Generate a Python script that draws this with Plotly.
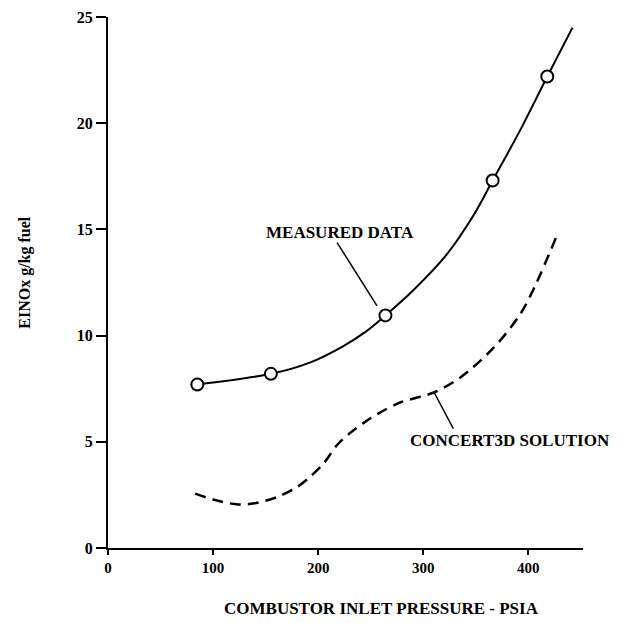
import plotly.graph_objects as go

# Measured data points (circles)
measured_x = [85, 155, 264, 366, 418]
measured_y = [7.7, 8.2, 10.95, 17.3, 22.2]

measured_curve_x = [85, 155, 192, 224, 246, 264, 291, 322, 348, 366, 392, 418, 442]
measured_curve_y = [7.7, 8.2, 8.73, 9.51, 10.21, 10.95, 12.16, 13.8, 15.68, 17.3, 19.65, 22.2, 24.5]

# CONCERT3D solution (dashed)
concert_x = [83, 100, 122, 138, 161, 180, 192, 205, 218, 230, 243, 256, 278, 310, 335, 367, 392, 407, 427]
concert_y = [2.56, 2.28, 2.06, 2.09, 2.40, 2.87, 3.34, 3.97, 4.85, 5.4, 5.88, 6.3, 6.85, 7.32, 8.02, 9.43, 10.99, 12.4, 14.7]

x_ticks = [0, 100, 200, 300, 400]
y_ticks = [0, 5, 10, 15, 20, 25]

FONT = "Liberation Serif"

fig = go.Figure()
fig.add_trace(go.Scatter(x=measured_curve_x, y=measured_curve_y, mode="lines",
                         line=dict(color="black", width=2, shape="spline", smoothing=0.9),
                         showlegend=False, hoverinfo="skip"))
fig.add_trace(go.Scatter(x=concert_x, y=concert_y, mode="lines",
                         line=dict(color="black", width=2.5, dash="11px,7px", shape="spline", smoothing=0.9),
                         showlegend=False, hoverinfo="skip"))
fig.add_trace(go.Scatter(x=measured_x, y=measured_y, mode="markers",
                         marker=dict(symbol="circle", size=12, color="white",
                                     line=dict(color="black", width=2)),
                         showlegend=False))

# leader lines
fig.add_shape(type="line", x0=218, y0=14.38, x1=256, y1=11.4,
              line=dict(color="black", width=1.5))
fig.add_shape(type="line", x0=328.6, y0=5.62, x1=310.5, y1=7.31,
              line=dict(color="black", width=1.5))

fig.add_annotation(x=221, y=14.85, text="<b>MEASURED DATA</b>", showarrow=False,
                   font=dict(family=FONT, size=17, color="black"))
fig.add_annotation(x=383, y=5.06, text="<b>CONCERT3D SOLUTION</b>", showarrow=False,
                   font=dict(family=FONT, size=17, color="black"))

fig.add_annotation(xref="paper", yref="paper", x=0.575, y=-0.114,
                   text="<b>COMBUSTOR INLET PRESSURE - PSIA</b>", showarrow=False,
                   font=dict(family=FONT, size=17, color="black"), yanchor="middle")
fig.add_annotation(xref="paper", yref="paper", x=-0.175, y=0.52,
                   text="<b>EINOx g/kg fuel</b>", showarrow=False, textangle=-90,
                   font=dict(family=FONT, size=16, color="black"),
                   xanchor="center", yanchor="middle")

fig.update_xaxes(range=[0, 452], tickvals=x_ticks, ticktext=["<b>%d</b>" % v for v in x_ticks],
                 showgrid=False, zeroline=False, showline=True, linecolor="black", linewidth=2,
                 ticks="outside", ticklen=5, tickwidth=1.5, tickcolor="black", automargin=False,
                 ticklabeloverflow="allow",
                 tickfont=dict(family=FONT, size=15, color="black"))
fig.update_yaxes(range=[0, 25], tickvals=y_ticks, ticktext=["<b>%d</b>" % v for v in y_ticks],
                 showgrid=False, zeroline=False, showline=True, linecolor="black", linewidth=2,
                 ticks="outside", ticklen=10, tickwidth=2, tickcolor="black", automargin=False,
                 ticklabeloverflow="allow",
                 tickfont=dict(family=FONT, size=16, color="black"))

fig.update_layout(width=618, height=623, margin=dict(l=100, r=43, t=9, b=83, autoexpand=False),
                  plot_bgcolor="white", paper_bgcolor="white")

fig.write_html("out.html")
